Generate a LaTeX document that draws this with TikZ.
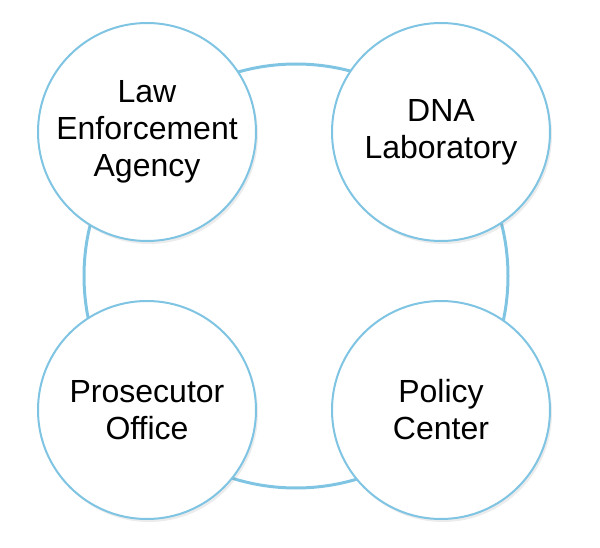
\documentclass[tikz,border=0pt]{standalone}
\usepackage{fontspec}
\setmainfont{Liberation Sans}
\usetikzlibrary{shadows}
\definecolor{ringblue}{HTML}{7FC4E2}
\begin{document}
\begin{tikzpicture}[x=1pt,y=-1pt,
  hub/.style={circle, draw=ringblue, line width=2pt, fill=white, minimum size=218pt, inner sep=0pt,
    align=center, font=\fontsize{32}{37}\selectfont,
    drop shadow={shadow xshift=2pt, shadow yshift=-3pt, opacity=0.12, fill=black!60}},
  ring/.style={draw=ringblue, line width=3pt}]
\useasboundingbox (0,0) rectangle (600,548);
\coordinate (c) at (296,276);
\draw[ring] (c) circle[radius=212pt];
\node[hub] (law) at (147,132) {Law\\Enforcement\\Agency};
\node[hub] (dna) at (441,132) {DNA\\Laboratory};
\node[hub] (pro) at (147,410) {Prosecutor\\Office};
\node[hub] (pol) at (441,410) {Policy\\Center};
\end{tikzpicture}
\end{document}
